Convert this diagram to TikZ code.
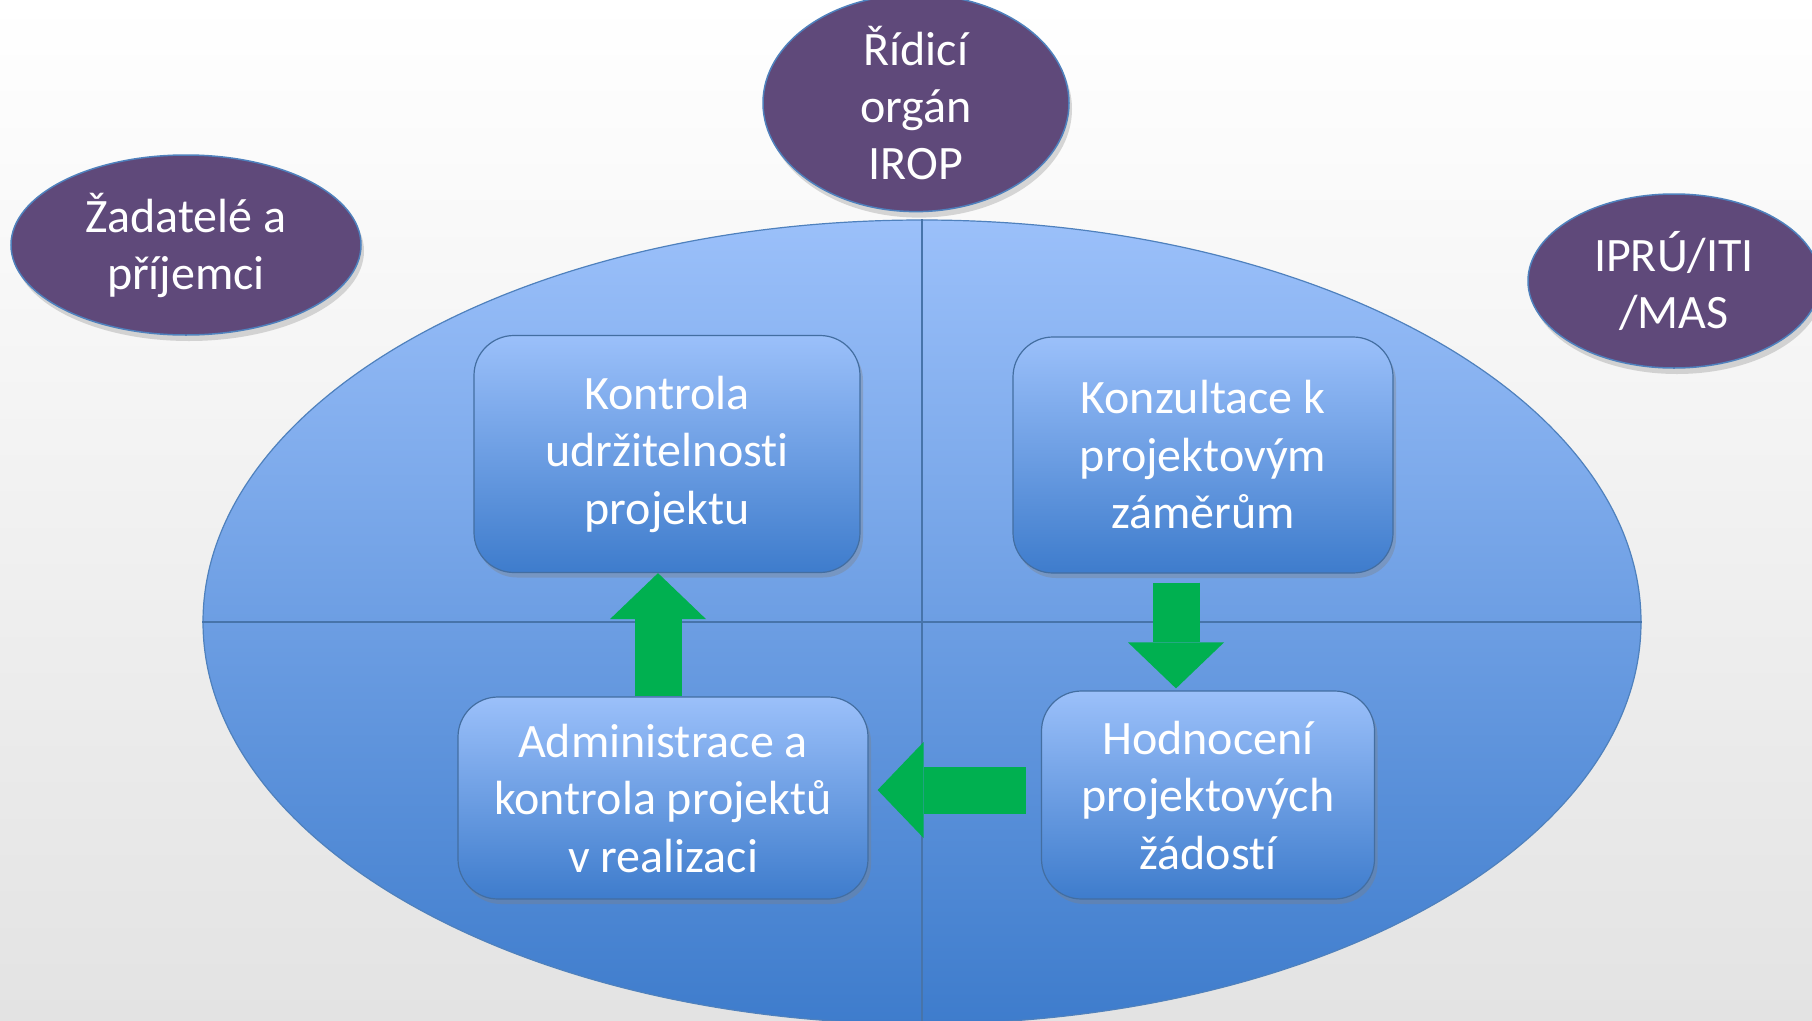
\documentclass[tikz,border=0pt]{standalone}
\usepackage{fontspec}
\setmainfont[Ligatures=NoCommon]{Carlito}
\usetikzlibrary{shapes.geometric,shadows,arrows.meta}
\definecolor{svetla}{RGB}{155,192,250}
\definecolor{stredni}{RGB}{122,166,232}
\definecolor{tmava}{RGB}{62,124,204}
\definecolor{fialova}{RGB}{95,73,122}
\definecolor{okraj}{RGB}{79,129,189}
\definecolor{zelena}{RGB}{0,176,80}
\tikzset{
	krok/.style = {rectangle, rounded corners=40pt, draw=okraj!85!black, line width=1.2pt,
	 top color=svetla, bottom color=tmava, text=white, align=center,
	 font=\fontsize{48}{57.5}\selectfont,
	 drop shadow={shadow xshift=3pt, shadow yshift=-5pt, opacity=.35}}}
\tikzset{
	akter/.style = {ellipse, inner sep=0pt, fill=fialova, draw=okraj, line width=1.5pt,
	 text=white, align=center, font=\fontsize{48}{57}\selectfont,
	 drop shadow={shadow xshift=3pt, shadow yshift=-6pt, opacity=.3}}}
\tikzset{
	sipka/.style = {draw=zelena, line width=47pt,
	 -{Triangle[width=96pt, length=46pt, line width=0pt]}}}

\begin{document}
\begin{tikzpicture}[x=1pt, y=-1pt]

\useasboundingbox (0,0) rectangle (1812,1020);
\clip (0,0) rectangle (1812,1020);
\shade [top color=white, middle color=white!97!black, bottom color=white!89!black]
 (0,0) rectangle (1812,1020);

% NODES
% big ellipse with quarters
\node (kruh) [ellipse, minimum width=1438pt, minimum height=804pt, inner sep=0pt,
 draw=okraj, line width=1.2pt, top color=svetla, middle color=stredni, bottom color=tmava]
 at (922,622) {};
\draw [okraj!90!black, line width=1.5pt] (kruh.north) -- (kruh.south);
\draw [okraj!90!black, line width=1.5pt] (kruh.west) -- (kruh.east);
% actors
\node (ridici) [akter, minimum width=306pt, minimum height=188pt] at (916,103) {Řídicí\\orgán\\IROP};
\node (zadatele) [akter, minimum width=350pt, minimum height=180pt] at (186,245) {Žadatelé a\\příjemci};
\node (ipru) [akter, minimum width=292pt, minimum height=174pt] at (1674,281) {IPRÚ/ITI\\/MAS};
% steps
\node (kontrola) [krok, minimum width=386pt, minimum height=237pt] at (667,454) {Kontrola\\udržitelnosti\\projektu};
\node (konzultace) [krok, minimum width=380pt, minimum height=236pt] at (1203,455) {Konzultace k\\projektovým\\záměrům};
\node (admin) [krok, minimum width=410pt, minimum height=202pt] at (663,798) {Administrace a\\kontrola projektů\\v realizaci};
\node (hodnoceni) [krok, minimum width=333pt, minimum height=208pt] at (1208,795) {Hodnocení\\projektových\\žádostí};

%CONNECTIONS
\coordinate (nahoru) at ([xshift=-5pt]admin.north);
\coordinate (dolu) at ([xshift=-27pt]konzultace.south);
\coordinate (vlevo) at ([yshift=5pt]hodnoceni.west);
\draw [sipka, shorten <=9pt, shorten >=2pt] (dolu) -- (dolu |- hodnoceni.north);
\draw [sipka, shorten <=15pt, shorten >=9pt] (vlevo) -- (vlevo -| admin.east);
\draw [sipka] (nahoru) -- (nahoru |- kontrola.south);

\end{tikzpicture}
\end{document}
